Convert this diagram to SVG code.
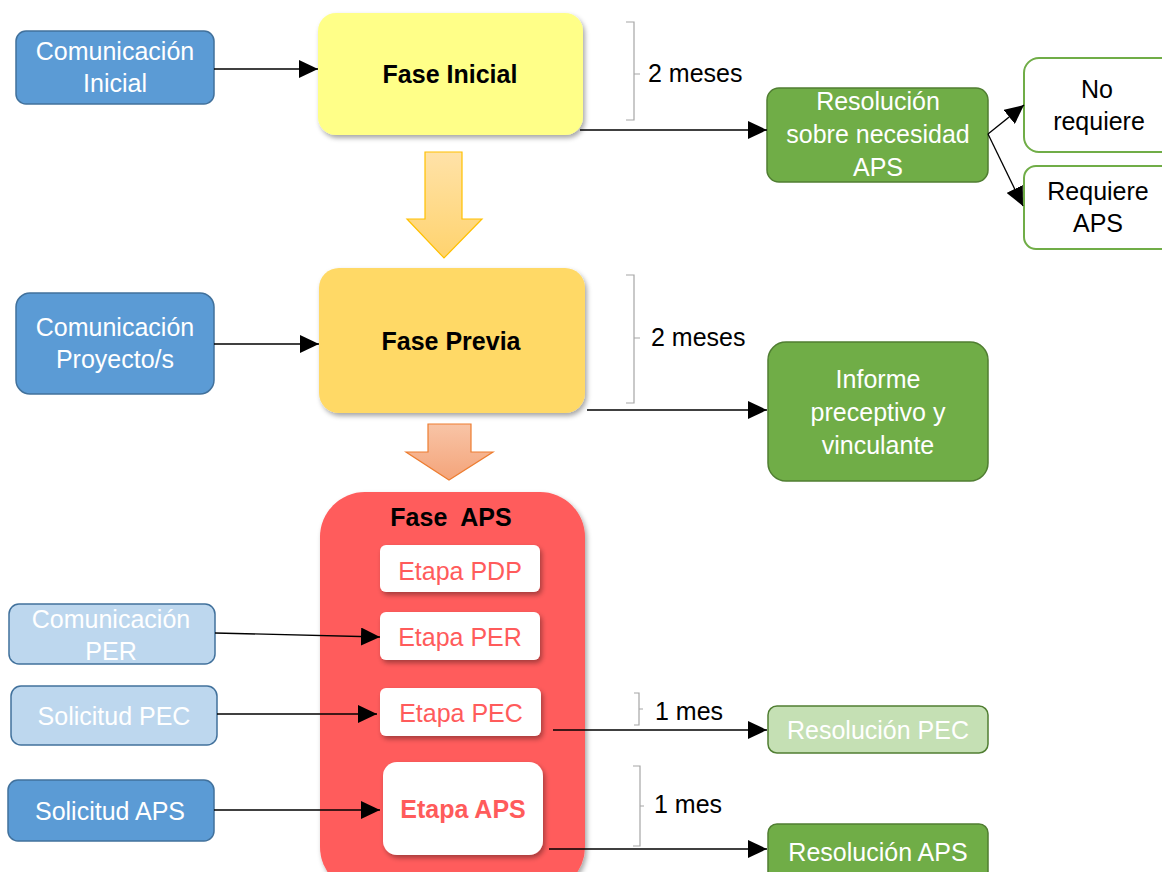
<svg xmlns="http://www.w3.org/2000/svg" width="1162" height="872" viewBox="0 0 1162 872">
<style>
text{font-family:"Liberation Sans",Arial,sans-serif;font-size:25px;text-anchor:middle}
.w{fill:#ffffff}
.k{fill:#000000}
.r{fill:#ff5b5b}
.b{font-weight:bold}
.blue{fill:#5b9bd5;stroke:#41719c;stroke-width:1.5}
.lblue{fill:#bdd7ee;stroke:#41719c;stroke-width:1.5}
.green{fill:#70ad47;stroke:#507e32;stroke-width:1.5}
.lgreen{fill:#c5e0b4;stroke:#507e32;stroke-width:1.5}
.wgreen{fill:#ffffff;stroke:#70ad47;stroke-width:2}
.etapa{fill:#ffffff;filter:url(#sh)}
.con{stroke:#000;stroke-width:1.3;fill:none}
.br{stroke:#a6a6a6;stroke-width:1.2;fill:none}
.lab{text-anchor:start}
</style>
<defs>
<marker id="ah" markerUnits="userSpaceOnUse" markerWidth="20" markerHeight="18" refX="19" refY="9" orient="auto">
<path d="M0,0 L19,9 L0,18 Z" fill="#000"/>
</marker>
<filter id="sh" x="-10%" y="-10%" width="125%" height="130%">
<feDropShadow dx="2" dy="3" stdDeviation="2.5" flood-color="#000" flood-opacity="0.35"/>
</filter>
<linearGradient id="gy" x1="0" y1="0" x2="0" y2="1">
<stop offset="0" stop-color="#ffe2a8"/>
<stop offset="1" stop-color="#ffd36e"/>
</linearGradient>
<linearGradient id="go" x1="0" y1="0" x2="0" y2="1">
<stop offset="0" stop-color="#f8c4a6"/>
<stop offset="1" stop-color="#f4a47a"/>
</linearGradient>
</defs>

<g id="brackets">
<path class="br" d="M626,22 H634 V120 H626 M634,74 H640"/>
<path class="br" d="M626,275 H634 V403 H626 M634,338 H640"/>
<path class="br" d="M634,693 H639 V725 H634 M639,709 H643"/>
<path class="br" d="M633,766 H640 V846 H633 M640,806 H644"/>
<text class="k lab" x="648" y="82">2 meses</text>
<text class="k lab" x="651" y="346">2 meses</text>
<text class="k lab" x="655" y="720">1 mes</text>
<text class="k lab" x="654" y="813">1 mes</text>
</g>

<g id="block-arrows">
<path d="M425,152 H462 V219 H482 L444,258 L407,219 H425 Z" fill="url(#gy)" stroke="#ffc000" stroke-width="1.2"/>
<path d="M428,424 H471 V452 H493 L449,480 L406,452 H428 Z" fill="url(#go)" stroke="#ed7d31" stroke-width="1.2"/>
</g>

<g id="com-inicial">
<rect class="blue" x="16" y="31" width="198" height="73" rx="10"/>
<text class="w" x="115" y="60">Comunicación</text>
<text class="w" x="115" y="92">Inicial</text>
</g>

<g id="fase-inicial">
<rect x="318" y="13" width="265" height="122" rx="18" fill="#ffff88" filter="url(#sh)"/>
<text class="k b" x="450" y="83">Fase Inicial</text>
</g>

<g id="res-necesidad">
<rect class="green" x="767" y="88" width="221" height="94" rx="12"/>
<text class="w" x="878" y="110">Resolución</text>
<text class="w" x="878" y="143">sobre necesidad</text>
<text class="w" x="878" y="176">APS</text>
</g>

<g id="no-requiere">
<rect class="wgreen" x="1024" y="58" width="160" height="94" rx="15"/>
<text class="k" x="1097" y="98">No</text>
<text class="k" x="1099" y="130">requiere</text>
</g>

<g id="requiere-aps">
<rect class="wgreen" x="1024" y="166" width="160" height="83" rx="12"/>
<text class="k" x="1098" y="200">Requiere</text>
<text class="k" x="1098" y="232">APS</text>
</g>

<g id="com-proyecto">
<rect class="blue" x="16" y="293" width="198" height="101" rx="14"/>
<text class="w" x="115" y="336">Comunicación</text>
<text class="w" x="115" y="368">Proyecto/s</text>
</g>

<g id="fase-previa">
<rect x="319" y="268" width="266" height="145" rx="20" fill="#ffd966" filter="url(#sh)"/>
<text class="k b" x="451" y="350">Fase Previa</text>
</g>

<g id="informe">
<rect class="green" x="768" y="342" width="220" height="139" rx="18"/>
<text class="w" x="878" y="388">Informe</text>
<text class="w" x="878" y="421">preceptivo y</text>
<text class="w" x="878" y="454">vinculante</text>
</g>

<g id="fase-aps">
<rect x="320" y="492" width="265" height="400" rx="45" fill="#ff5b5b" filter="url(#sh)"/>
<text class="k b" x="451" y="526">Fase&#160; APS</text>
</g>

<g id="etapa-pdp">
<rect class="etapa" x="380" y="545" width="160" height="47" rx="6"/>
<text class="r" x="460" y="580">Etapa PDP</text>
</g>

<g id="etapa-per">
<rect class="etapa" x="380" y="612" width="160" height="48" rx="6"/>
<text class="r" x="460" y="646">Etapa PER</text>
</g>

<g id="etapa-pec">
<rect class="etapa" x="380" y="688" width="161" height="48" rx="6"/>
<text class="r" x="461" y="722">Etapa PEC</text>
</g>

<g id="etapa-aps">
<rect class="etapa" x="383" y="762" width="160" height="93" rx="14"/>
<text class="r b" x="463" y="818">Etapa APS</text>
</g>

<g id="com-per">
<rect class="lblue" x="9" y="604" width="206" height="60" rx="10"/>
<text class="w" x="111" y="628">Comunicación</text>
<text class="w" x="111" y="660">PER</text>
</g>

<g id="sol-pec">
<rect class="lblue" x="11" y="686" width="206" height="59" rx="10"/>
<text class="w" x="114" y="725">Solicitud PEC</text>
</g>

<g id="sol-aps">
<rect class="blue" x="8" y="780" width="206" height="61" rx="10"/>
<text class="w" x="110" y="820">Solicitud APS</text>
</g>

<g id="res-pec">
<rect class="lgreen" x="768" y="706" width="220" height="47" rx="9"/>
<text class="w" x="878" y="739">Resolución PEC</text>
</g>

<g id="res-aps">
<rect class="green" x="768" y="824" width="220" height="70" rx="9"/>
<text class="w" x="878" y="861">Resolución APS</text>
</g>

<g id="connectors">
<line class="con" x1="214" y1="69" x2="318" y2="69" marker-end="url(#ah)"/>
<line class="con" x1="580" y1="130" x2="767" y2="130" marker-end="url(#ah)"/>
<line class="con" x1="988" y1="134" x2="1024" y2="105" marker-end="url(#ah)"/>
<line class="con" x1="988" y1="134" x2="1023" y2="206" marker-end="url(#ah)"/>
<line class="con" x1="214" y1="344" x2="319" y2="344" marker-end="url(#ah)"/>
<line class="con" x1="587" y1="410" x2="767" y2="410" marker-end="url(#ah)"/>
<line class="con" x1="215" y1="633" x2="380" y2="637" marker-end="url(#ah)"/>
<line class="con" x1="217" y1="714" x2="377" y2="714" marker-end="url(#ah)"/>
<line class="con" x1="214" y1="810" x2="380" y2="810" marker-end="url(#ah)"/>
<line class="con" x1="553" y1="730" x2="767" y2="730" marker-end="url(#ah)"/>
<line class="con" x1="549" y1="849" x2="767" y2="849" marker-end="url(#ah)"/>
</g>
</svg>
